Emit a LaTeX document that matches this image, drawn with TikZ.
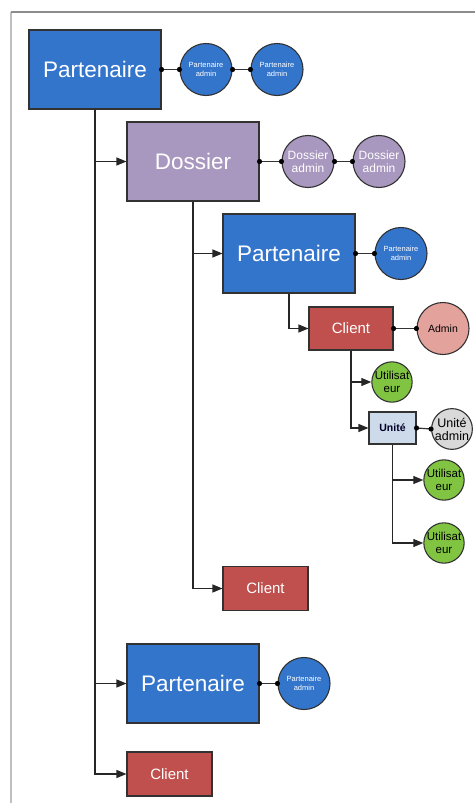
\documentclass[tikz,border=0pt]{standalone}
\usepackage{fontspec}
\setmainfont{Liberation Sans}
\usetikzlibrary{arrows.meta}
\definecolor{pblue}{RGB}{52,117,204}
\definecolor{dpurple}{RGB}{168,151,190}
\definecolor{cred}{RGB}{192,80,77}
\definecolor{apink}{RGB}{228,162,157}
\definecolor{ugreen}{RGB}{128,196,66}
\definecolor{ublue}{RGB}{205,218,234}
\definecolor{ugray}{RGB}{217,217,217}
\definecolor{edge}{RGB}{50,50,50}
\tikzset{
  box/.style={draw=edge, line width=1.1pt, inner sep=0pt, align=center},
  bigbox/.style={box, minimum width=132pt, minimum height=79pt, text=white,
    font=\fontsize{22.5}{24}\selectfont},
  partbox/.style={bigbox, fill=pblue},
  dossbox/.style={bigbox, fill=dpurple},
  clientbox/.style={box, fill=cred, text=white, minimum width=85pt, minimum height=44pt,
    font=\fontsize{15}{17}\selectfont},
  unitbox/.style={box, fill=ublue, text=black!85!blue, minimum width=47pt, minimum height=32pt,
    font=\bfseries\fontsize{10.5}{12}\selectfont},
  disc/.style={circle, draw=edge, line width=1.1pt, inner sep=0pt, align=center},
  bigdisc/.style={disc, minimum size=52pt},
  smalldisc/.style={disc, minimum size=40pt},
  padisc/.style={bigdisc, fill=pblue, text=white, font=\fontsize{7.5}{8.5}\selectfont},
  dadisc/.style={bigdisc, fill=dpurple, text=white, font=\fontsize{12}{13}\selectfont},
  admindisc/.style={bigdisc, fill=apink, text=black, font=\fontsize{10.5}{12}\selectfont},
  userdisc/.style={smalldisc, fill=ugreen, text=black, font=\fontsize{11.5}{12.5}\selectfont},
  uadisc/.style={smalldisc, fill=ugray, text=black, font=\fontsize{12.5}{13}\selectfont},
  branch/.style={draw=black!85, line width=1.2pt, -{Triangle[length=10pt,width=8pt]}},
  link/.style={draw=black!80, line width=1.2pt},
  frameline/.style={line width=1.5pt}
}
\newcommand{\linkdots}[2]{%
  \draw[link] (#1.east) -- (#2.west);
  \fill (#1.east) circle (2.6pt);
  \fill (#2.west) circle (2.6pt);}
\begin{document}
\begin{tikzpicture}[x=1pt,y=-1pt]
  \useasboundingbox (0,0) rectangle (475,803);
  % frame
  \draw[frameline, black!25] (11,12) -- (11,803);
  \draw[frameline, black!45] (11,12) -- (475,12);

  % boxes
  \node[partbox] (P1) at (95,69.5) {Partenaire};
  \node[dossbox] (D) at (193,161.5) {Dossier};
  \node[partbox] (P2) at (289,253.5) {Partenaire};
  \node[clientbox, minimum width=84pt, minimum height=43pt] (C1) at (351,328.5) {Client};
  \node[unitbox] (U) at (392.5,428) {Unité};
  \node[clientbox] (C2) at (265.5,588.5) {Client};
  \node[partbox] (P3) at (193,683.5) {Partenaire};
  \node[clientbox] (C3) at (169.5,774) {Client};

  % discs
  \node[padisc] (PA1) at (206,69.5) {Partenaire\\admin};
  \node[padisc] (PA2) at (277,69.5) {Partenaire\\admin};
  \node[dadisc] (DA1) at (308,161.5) {Dossier\\admin};
  \node[dadisc] (DA2) at (379,161.5) {Dossier\\admin};
  \node[padisc] (PA3) at (401,253.5) {Partenaire\\admin};
  \node[admindisc] (AD) at (443,328.5) {Admin};
  \node[userdisc] (UT1) at (392,382) {Utilisat\\eur};
  \node[uadisc] (UA) at (452,429) {Unité\\admin};
  \node[userdisc] (UT2) at (444,480) {Utilisat\\eur};
  \node[userdisc] (UT3) at (444,543) {Utilisat\\eur};
  \node[padisc] (PA4) at (304,683.5) {Partenaire\\admin};

  % tree branches
  \draw[branch] (P1.south) |- (D.west);
  \draw[branch] (P1.south) |- (P3.west);
  \draw[branch] (P1.south) |- (C3.west);
  \draw[branch] (D.south) |- (P2.west);
  \draw[branch] (D.south) |- (C2.west);
  \draw[branch] (P2.south) |- (C1.west);
  \draw[branch] (C1.south) |- (UT1.west);
  \draw[branch] (C1.south) |- (U.west);
  \draw[branch] (U.south) |- (UT2.west);
  \draw[branch] (U.south) |- (UT3.west);

  % admin links
  \linkdots{P1}{PA1}
  \linkdots{PA1}{PA2}
  \linkdots{D}{DA1}
  \linkdots{DA1}{DA2}
  \linkdots{P2}{PA3}
  \linkdots{C1}{AD}
  \linkdots{U}{UA}
  \linkdots{P3}{PA4}
\end{tikzpicture}
\end{document}
